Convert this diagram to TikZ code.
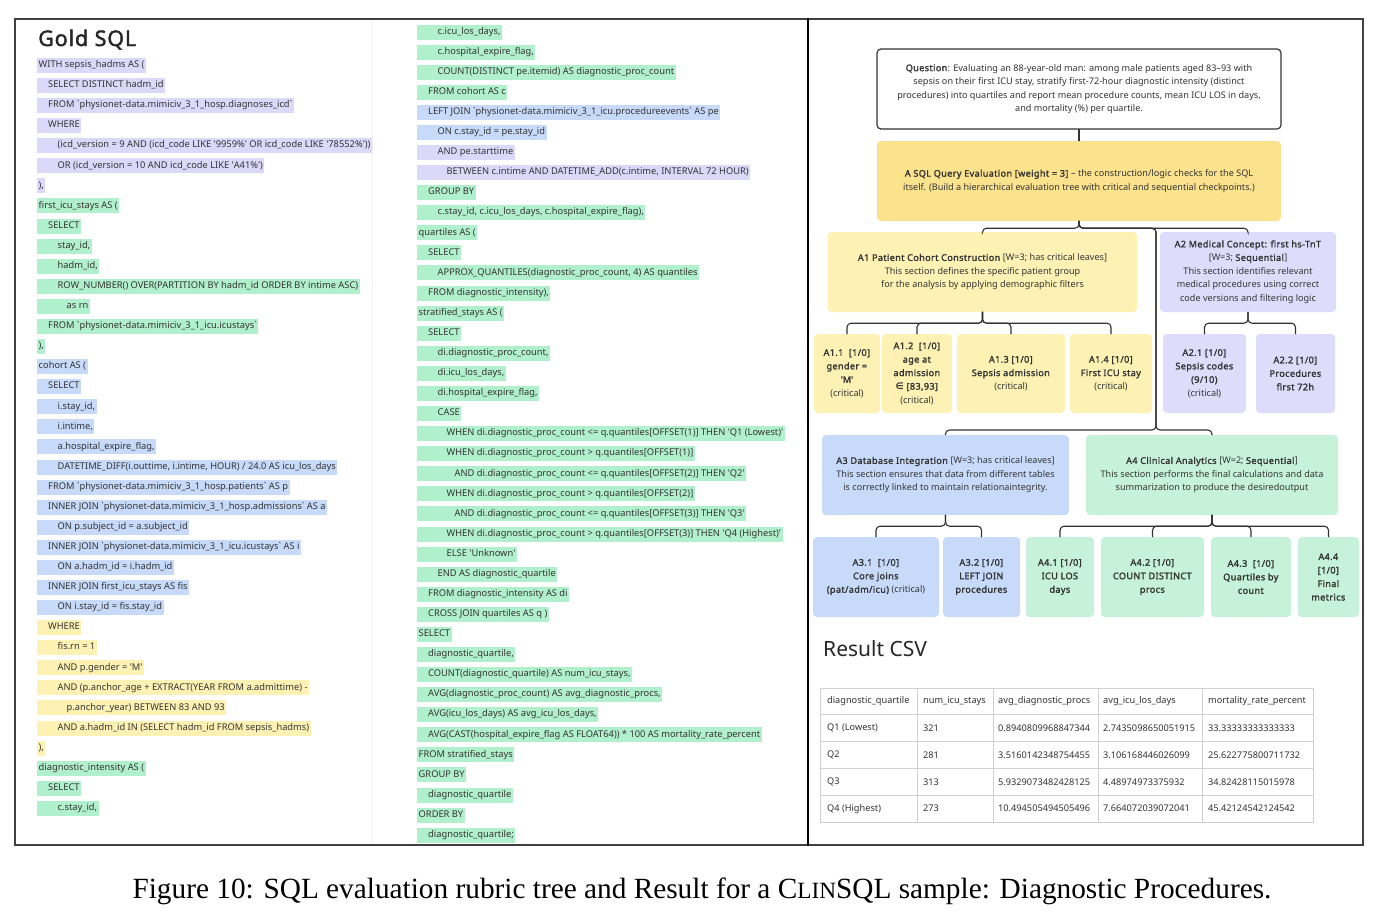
\documentclass[tikz,border=0pt]{standalone}
\usepackage{fontspec}
\usepackage{tikz}
\usepackage{xcolor}
\newfontfamily\uifont{Noto Sans}[BoldFont={Noto Sans},BoldFeatures={FakeBold=1.8,LetterSpace=4}]
\newfontfamily\symfont{DejaVu Sans}
\newfontfamily\capfont{Liberation Serif}

\definecolor{hlpurple}{HTML}{DCD8FA}
\definecolor{hlgreen}{HTML}{B1F0CD}
\definecolor{hlblue}{HTML}{C7DAFA}
\definecolor{hlyellow}{HTML}{FDF2B3}
\definecolor{rootyellow}{HTML}{FBE28D}
\definecolor{boxpurple}{HTML}{DEDBFB}
\definecolor{boxgreen}{HTML}{C5F2D8}
\definecolor{inkgray}{HTML}{333333}
\definecolor{gridgray}{HTML}{D0D0D0}

\newcommand{\qt}{\textquotesingle}
\newcommand{\bt}{\textasciigrave}
\newcommand{\lrow}[4]{\node[sqlhl,fill=#3] (l#1) at (37,{65.4+(#1-1)*20.08}) {\hspace*{#2pt}#4};}
\newcommand{\mrow}[4]{\node[sqlhl,fill=#3] (m#1) at (417,{32+(#1-1)*20.08}) {\hspace*{#2pt}#4};}

\begin{document}
\begin{tikzpicture}[x=1pt,y=-1pt,line cap=round,
  sqlhl/.style={anchor=west,inner xsep=1.5pt,inner ysep=0pt,minimum height=15,text height=7,text depth=2.5,text=inkgray,font=\uifont\fontsize{9.3}{10}\selectfont},
  tbox/.style={rounded corners=4pt,inner sep=2pt,align=center,text=inkgray,font=\uifont\fontsize{9.1}{13.5}\selectfont},
  qbox/.style={tbox,draw=inkgray,line width=1.2pt,fill=white},
  conn/.style={draw=inkgray,line width=1.1pt,rounded corners=4pt},
  cell/.style={anchor=west,inner sep=0pt,text=inkgray,font=\uifont\fontsize{9.2}{10}\selectfont},
  tblgrid/.style={draw=gridgray,line width=0.8pt}]
\useasboundingbox (0,0) rectangle (1382,924);

% frame
\draw[gray!10,line width=0.8pt] (372,19) -- (372,845);
\draw[black!75,line width=1.3pt] (15,19) rectangle (1363,845);
\draw[black,line width=2.2pt] (808,19) -- (808,845);

\node[anchor=base west,inner sep=0pt,text=black!85,font=\uifont\bfseries\fontsize{21.5}{24}\selectfont] (title) at (38,46) {Gold SQL};

% left column
\lrow{1}{0}{hlpurple}{WITH sepsis\_hadms AS (}
\lrow{2}{9.5}{hlpurple}{SELECT DISTINCT hadm\_id}
\lrow{3}{9.5}{hlpurple}{FROM \bt physionet-data.mimiciv\_3\_1\_hosp.diagnoses\_icd\bt}
\lrow{4}{9.5}{hlpurple}{WHERE}
\lrow{5}{19}{hlpurple}{(icd\_version = 9 AND (icd\_code LIKE \qt 9959\%\qt\ OR icd\_code LIKE \qt 78552\%\qt))}
\lrow{6}{19}{hlpurple}{OR (icd\_version = 10 AND icd\_code LIKE \qt A41\%\qt)}
\lrow{7}{0}{hlpurple}{),}
\lrow{8}{0}{hlgreen}{first\_icu\_stays AS (}
\lrow{9}{9.5}{hlgreen}{SELECT}
\lrow{10}{19}{hlgreen}{stay\_id,}
\lrow{11}{19}{hlgreen}{hadm\_id,}
\lrow{12}{19}{hlgreen}{ROW\_NUMBER() OVER(PARTITION BY hadm\_id ORDER BY intime ASC)}
\lrow{13}{28}{hlgreen}{as rn}
\lrow{14}{9.5}{hlgreen}{FROM \bt physionet-data.mimiciv\_3\_1\_icu.icustays\bt}
\lrow{15}{0}{hlgreen}{),}
\lrow{16}{0}{hlblue}{cohort AS (}
\lrow{17}{9.5}{hlblue}{SELECT}
\lrow{18}{19}{hlblue}{i.stay\_id,}
\lrow{19}{19}{hlblue}{i.intime,}
\lrow{20}{19}{hlblue}{a.hospital\_expire\_flag,}
\lrow{21}{19}{hlblue}{DATETIME\_DIFF(i.outtime, i.intime, HOUR) / 24.0 AS icu\_los\_days}
\lrow{22}{9.5}{hlblue}{FROM \bt physionet-data.mimiciv\_3\_1\_hosp.patients\bt\ AS p}
\lrow{23}{9.5}{hlblue}{INNER JOIN \bt physionet-data.mimiciv\_3\_1\_hosp.admissions\bt\ AS a}
\lrow{24}{19}{hlblue}{ON p.subject\_id = a.subject\_id}
\lrow{25}{9.5}{hlblue}{INNER JOIN \bt physionet-data.mimiciv\_3\_1\_icu.icustays\bt\ AS i}
\lrow{26}{19}{hlblue}{ON a.hadm\_id = i.hadm\_id}
\lrow{27}{9.5}{hlblue}{INNER JOIN first\_icu\_stays AS fis}
\lrow{28}{19}{hlblue}{ON i.stay\_id = fis.stay\_id}
\lrow{29}{9.5}{hlyellow}{WHERE}
\lrow{30}{19}{hlyellow}{fis.rn = 1}
\lrow{31}{19}{hlyellow}{AND p.gender = \qt M\qt}
\lrow{32}{19}{hlyellow}{AND (p.anchor\_age + EXTRACT(YEAR FROM a.admittime) -}
\lrow{33}{28}{hlyellow}{p.anchor\_year) BETWEEN 83 AND 93}
\lrow{34}{19}{hlyellow}{AND a.hadm\_id IN (SELECT hadm\_id FROM sepsis\_hadms)}
\lrow{35}{0}{hlyellow}{),}
\lrow{36}{0}{hlgreen}{diagnostic\_intensity AS (}
\lrow{37}{9.5}{hlgreen}{SELECT}
\lrow{38}{19}{hlgreen}{c.stay\_id,}

% middle column
\mrow{1}{19}{hlgreen}{c.icu\_los\_days,}
\mrow{2}{19}{hlgreen}{c.hospital\_expire\_flag,}
\mrow{3}{19}{hlgreen}{COUNT(DISTINCT pe.itemid) AS diagnostic\_proc\_count}
\mrow{4}{9.5}{hlgreen}{FROM cohort AS c}
\mrow{5}{9.5}{hlblue}{LEFT JOIN \bt physionet-data.mimiciv\_3\_1\_icu.procedureevents\bt\ AS pe}
\mrow{6}{19}{hlblue}{ON c.stay\_id = pe.stay\_id}
\mrow{7}{19}{hlpurple}{AND pe.starttime}
\mrow{8}{28}{hlpurple}{BETWEEN c.intime AND DATETIME\_ADD(c.intime, INTERVAL 72 HOUR)}
\mrow{9}{9.5}{hlgreen}{GROUP BY}
\mrow{10}{19}{hlgreen}{c.stay\_id, c.icu\_los\_days, c.hospital\_expire\_flag),}
\mrow{11}{0}{hlgreen}{quartiles AS (}
\mrow{12}{9.5}{hlgreen}{SELECT}
\mrow{13}{19}{hlgreen}{APPROX\_QUANTILES(diagnostic\_proc\_count, 4) AS quantiles}
\mrow{14}{9.5}{hlgreen}{FROM diagnostic\_intensity),}
\mrow{15}{0}{hlgreen}{stratified\_stays AS (}
\mrow{16}{9.5}{hlgreen}{SELECT}
\mrow{17}{19}{hlgreen}{di.diagnostic\_proc\_count,}
\mrow{18}{19}{hlgreen}{di.icu\_los\_days,}
\mrow{19}{19}{hlgreen}{di.hospital\_expire\_flag,}
\mrow{20}{19}{hlgreen}{CASE}
\mrow{21}{28}{hlgreen}{WHEN di.diagnostic\_proc\_count <= q.quantiles[OFFSET(1)] THEN \qt Q1 (Lowest)\qt}
\mrow{22}{28}{hlgreen}{WHEN di.diagnostic\_proc\_count > q.quantiles[OFFSET(1)]}
\mrow{23}{36}{hlgreen}{AND di.diagnostic\_proc\_count <= q.quantiles[OFFSET(2)] THEN \qt Q2\qt}
\mrow{24}{28}{hlgreen}{WHEN di.diagnostic\_proc\_count > q.quantiles[OFFSET(2)]}
\mrow{25}{36}{hlgreen}{AND di.diagnostic\_proc\_count <= q.quantiles[OFFSET(3)] THEN \qt Q3\qt}
\mrow{26}{28}{hlgreen}{WHEN di.diagnostic\_proc\_count > q.quantiles[OFFSET(3)] THEN \qt Q4 (Highest)\qt}
\mrow{27}{28}{hlgreen}{ELSE \qt Unknown\qt}
\mrow{28}{19}{hlgreen}{END AS diagnostic\_quartile}
\mrow{29}{9.5}{hlgreen}{FROM diagnostic\_intensity AS di}
\mrow{30}{9.5}{hlgreen}{CROSS JOIN quartiles AS q )}
\mrow{31}{0}{hlgreen}{SELECT}
\mrow{32}{9.5}{hlgreen}{diagnostic\_quartile,}
\mrow{33}{9.5}{hlgreen}{COUNT(diagnostic\_quartile) AS num\_icu\_stays,}
\mrow{34}{9.5}{hlgreen}{AVG(diagnostic\_proc\_count) AS avg\_diagnostic\_procs,}
\mrow{35}{9.5}{hlgreen}{AVG(icu\_los\_days) AS avg\_icu\_los\_days,}
\mrow{36}{9.5}{hlgreen}{AVG(CAST(hospital\_expire\_flag AS FLOAT64)) * 100 AS mortality\_rate\_percent}
\mrow{37}{0}{hlgreen}{FROM stratified\_stays}
\mrow{38}{0}{hlgreen}{GROUP BY}
\mrow{39}{9.5}{hlgreen}{diagnostic\_quartile}
\mrow{40}{0}{hlgreen}{ORDER BY}
\mrow{41}{9.5}{hlgreen}{diagnostic\_quartile;}

% rubric tree
\node[qbox,minimum width=404,minimum height=80] (Q) at (1079,89) {\textbf{Question}: Evaluating an 88-year-old man: among male patients aged 83–93 with\\ sepsis on their first ICU stay, stratify first-72-hour diagnostic intensity (distinct\\ procedures) into quartiles and report mean procedure counts, mean ICU LOS in days,\\ and mortality (\%) per quartile.};
\node[tbox,fill=rootyellow,minimum width=404,minimum height=80] (A) at (1079,181) {\textbf{A SQL Query Evaluation [weight = 3]} – the construction/logic checks for the SQL\\ itself. (Build a hierarchical evaluation tree with critical and sequential checkpoints.)};
\node[tbox,fill=hlyellow,minimum width=309,minimum height=80] (A1) at (982.5,272) {\textbf{A1 Patient Cohort Construction} [W=3; has critical leaves]\\ This section defines the specific patient group\\ for the analysis by applying demographic filters};
\node[tbox,fill=boxpurple,minimum width=176,minimum height=80] (A2) at (1248,272) {\textbf{A2 Medical Concept: first hs-TnT}\\ {[W=3; \textbf{Sequential}]}\\ This section identifies relevant\\ medical procedures using correct\\ code versions and filtering logic};
\node[tbox,fill=hlblue,minimum width=247,minimum height=80] (A3) at (945.5,475) {\textbf{A3 Database Integration} [W=3; has critical leaves]\\ This section ensures that data from different tables\\ is correctly linked to maintain relationaintegrity.};
\node[tbox,fill=boxgreen,minimum width=252,minimum height=80] (A4) at (1212,475) {\textbf{A4 Clinical Analytics} [W=2; \textbf{Sequential}]\\ This section performs the final calculations and data\\ summarization to produce the desiredoutput};

\node[tbox,fill=hlyellow,minimum width=66,minimum height=79] (A11) at (847,373.5) {\textbf{A1.1\ \ [1/0]}\\ \textbf{gender =}\\ \textbf{\qt M\qt}\\ (critical)};
\node[tbox,fill=hlyellow,minimum width=70,minimum height=79] (A12) at (917,373.5) {\textbf{A1.2\ \ [1/0]}\\ \textbf{age at}\\ \textbf{admission}\\ \textbf{{\symfont ∈} [83,93]}\\ (critical)};
\node[tbox,fill=hlyellow,minimum width=108,minimum height=79] (A13) at (1011,373.5) {\textbf{A1.3 [1/0]}\\ \textbf{Sepsis admission}\\ (critical)};
\node[tbox,fill=hlyellow,minimum width=82,minimum height=79] (A14) at (1111,373.5) {\textbf{A1.4 [1/0]}\\ \textbf{First ICU stay}\\ (critical)};
\node[tbox,fill=boxpurple,minimum width=83,minimum height=79] (A21) at (1204.5,373.5) {\textbf{A2.1 [1/0]}\\ \textbf{Sepsis codes}\\ \textbf{(9/10)}\\ (critical)};
\node[tbox,fill=boxpurple,minimum width=79,minimum height=79] (A22) at (1295.5,373.5) {\textbf{A2.2 [1/0]}\\ \textbf{Procedures}\\ \textbf{first 72h}};

\node[tbox,fill=hlblue,minimum width=126,minimum height=80] (A31) at (876,577) {\textbf{A3.1\ \ [1/0]}\\ \textbf{Core joins}\\ \textbf{(pat/adm/icu)} (critical)};
\node[tbox,fill=hlblue,minimum width=77,minimum height=80] (A32) at (981.5,577) {\textbf{A3.2 [1/0]}\\ \textbf{LEFT JOIN}\\ \textbf{procedures}};
\node[tbox,fill=boxgreen,minimum width=68,minimum height=80] (A41) at (1060,577) {\textbf{A4.1 [1/0]}\\ \textbf{ICU LOS}\\ \textbf{days}};
\node[tbox,fill=boxgreen,minimum width=103,minimum height=80] (A42) at (1152.5,577) {\textbf{A4.2 [1/0]}\\ \textbf{COUNT DISTINCT}\\ \textbf{procs}};
\node[tbox,fill=boxgreen,minimum width=80,minimum height=80] (A43) at (1251,577) {\textbf{A4.3\ \ [1/0]}\\ \textbf{Quartiles by}\\ \textbf{count}};
\node[tbox,fill=boxgreen,minimum width=61,minimum height=80] (A44) at (1328.5,577) {\textbf{A4.4}\\ \textbf{[1/0]}\\ \textbf{Final}\\ \textbf{metrics}};

\coordinate (hub) at (1156,430);
\draw[conn] (Q) -- (A);
\draw[conn] (A.south) -- ++(0,7) -| (A1.north);
\draw[conn] (A.south) -- ++(0,7) -| (A2.north);
\draw[conn] (A.south) -- ++(0,7) -| (hub) -| (A3.north);
\draw[conn] (A.south) -- ++(0,7) -| (hub) -| (A4.north);
\draw[conn] (A1.south) -- ++(0,11) -| (A11.north);
\draw[conn] (A1.south) -- ++(0,11) -| (A12.north);
\draw[conn] (A1.south) -- ++(0,11) -| (A13.north);
\draw[conn] (A1.south) -- ++(0,11) -| (A14.north);
\draw[conn] (A2.south) -- ++(0,11) -| (A21.north);
\draw[conn] (A2.south) -- ++(0,11) -| (A22.north);
\draw[conn] (A3.south) -- ++(0,11) -| (A31.north);
\draw[conn] (A3.south) -- ++(0,11) -| (A32.north);
\draw[conn] (A4.south) -- ++(0,11) -| (A41.north);
\draw[conn] (A4.south) -- ++(0,11) -| (A42.north);
\draw[conn] (A4.south) -- ++(0,11) -| (A43.north);
\draw[conn] (A4.south) -- ++(0,11) -| (A44.north);

% result table
\node[anchor=base west,inner sep=0pt,text=black!85,font=\uifont\fontsize{21}{24}\selectfont] (result) at (823,656) {Result CSV};
\draw[tblgrid] (820,688) rectangle (1313,822);
\draw[tblgrid] (820,714.8) -- (1313,714.8);
\draw[tblgrid] (820,741.6) -- (1313,741.6);
\draw[tblgrid] (820,768.4) -- (1313,768.4);
\draw[tblgrid] (820,795.2) -- (1313,795.2);
\draw[tblgrid] (917,688) -- (917,822);
\draw[tblgrid] (993,688) -- (993,822);
\draw[tblgrid] (1098,688) -- (1098,822);
\draw[tblgrid] (1202,688) -- (1202,822);

\node[cell] (h1) at (827,701.4) {diagnostic\_quartile};
\node[cell] (h2) at (923,701.4) {num\_icu\_stays};
\node[cell] (h3) at (998,701.4) {avg\_diagnostic\_procs};
\node[cell] (h4) at (1103,701.4) {avg\_icu\_los\_days};
\node[cell] (h5) at (1208,701.4) {mortality\_rate\_percent};
\node[cell] (r1c1) at (827,728.2) {Q1 (Lowest)};
\node[cell] (r1c2) at (923,728.2) {321};
\node[cell] (r1c3) at (998,728.2) {0.8940809968847344};
\node[cell] (r1c4) at (1103,728.2) {2.7435098650051915};
\node[cell] (r1c5) at (1208,728.2) {33.33333333333333};
\node[cell] (r2c1) at (827,755) {Q2};
\node[cell] (r2c2) at (923,755) {281};
\node[cell] (r2c3) at (998,755) {3.5160142348754455};
\node[cell] (r2c4) at (1103,755) {3.106168446026099};
\node[cell] (r2c5) at (1208,755) {25.622775800711732};
\node[cell] (r3c1) at (827,781.8) {Q3};
\node[cell] (r3c2) at (923,781.8) {313};
\node[cell] (r3c3) at (998,781.8) {5.9329073482428125};
\node[cell] (r3c4) at (1103,781.8) {4.48974973375932};
\node[cell] (r3c5) at (1208,781.8) {34.82428115015978};
\node[cell] (r4c1) at (827,808.6) {Q4 (Highest)};
\node[cell] (r4c2) at (923,808.6) {273};
\node[cell] (r4c3) at (998,808.6) {10.494505494505496};
\node[cell] (r4c4) at (1103,808.6) {7.664072039072041};
\node[cell] (r4c5) at (1208,808.6) {45.42124542124542};

\node[inner sep=0pt,font=\capfont\fontsize{29.3}{32}\selectfont] (caption) at (702,891) {Figure 10: SQL evaluation rubric tree and Result for a C{\fontsize{23.3}{26}\selectfont LIN}SQL sample: Diagnostic Procedures.};
\end{tikzpicture}
\end{document}
